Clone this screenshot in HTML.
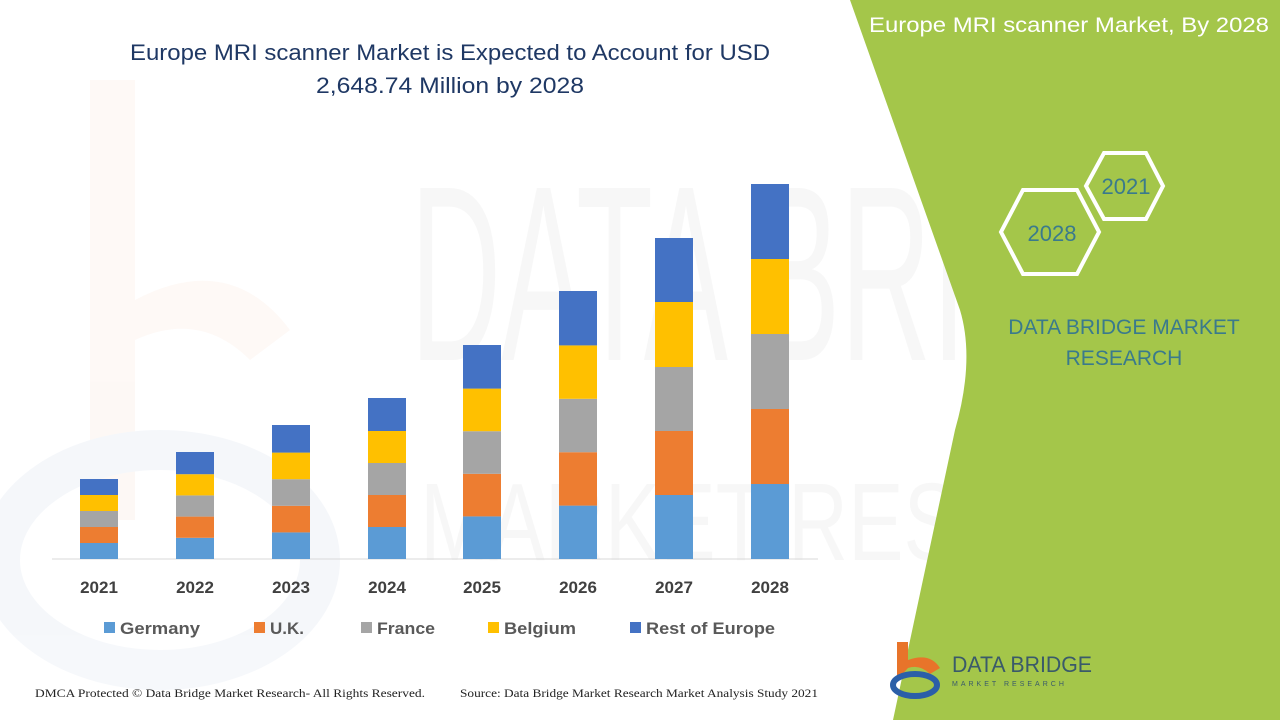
<!DOCTYPE html>
<html><head><meta charset="utf-8"><style>
html,body{margin:0;padding:0;background:#fff;}
svg{display:block;}
</style></head><body>
<svg width="1280" height="720" viewBox="0 0 1280 720" xmlns="http://www.w3.org/2000/svg" font-family="'Liberation Sans', sans-serif">
<rect width="1280" height="720" fill="#fff"/>
<g opacity="0.045">
<path d="M90 80 L135 80 L135 300 Q230 250 290 330 L250 360 Q200 310 135 340 L135 520 L90 520 Z" fill="#e8742a"/>
<ellipse cx="160" cy="560" rx="160" ry="110" fill="none" stroke="#2b5fa8" stroke-width="40"/>
<text x="410" y="360" font-size="250" fill="#555" textLength="830" lengthAdjust="spacingAndGlyphs">DATA BRIDGE</text>
<text x="420" y="560" font-size="110" fill="#555" textLength="830" lengthAdjust="spacingAndGlyphs">MARKET RESEARCH</text>
</g>
<path d="M850 0 L1280 0 L1280 720 L893 720 L955 430 Q975 360 960 310 Z" fill="#a4c64a"/>
<text x="1269" y="32" font-size="21" fill="#fff" text-anchor="end" textLength="400" lengthAdjust="spacingAndGlyphs">Europe MRI scanner Market, By 2028</text>
<g fill="none" stroke="#fff" stroke-width="4">
<polygon points="1001,232 1023,190 1077,190 1099,232 1077,274 1023,274"/>
<polygon points="1086,186 1104,153 1146,153 1163,186 1146,219 1104,219"/>
</g>
<text x="1052" y="241" font-size="22" fill="#3a7a8c" text-anchor="middle">2028</text>
<text x="1126" y="194" font-size="22" fill="#3a7a8c" text-anchor="middle">2021</text>
<text x="1124" y="334" font-size="21" fill="#3a7a8c" text-anchor="middle">DATA BRIDGE MARKET</text>
<text x="1124" y="365" font-size="21" fill="#3a7a8c" text-anchor="middle">RESEARCH</text>
<path d="M897 642 L908 642 L908 660 Q930 652 940 668 L930 674 Q920 664 908 668 L897 680 Z" fill="#e8742a"/>
<ellipse cx="915" cy="685" rx="22" ry="11" fill="none" stroke="#2b5fa8" stroke-width="6"/>
<text x="952" y="672" font-size="22" fill="#3a5a6a" textLength="140" lengthAdjust="spacingAndGlyphs">DATA BRIDGE</text>
<text x="952" y="686" font-size="7" fill="#3a5a6a" letter-spacing="3">MARKET RESEARCH</text>
<text x="450" y="60" font-size="22" fill="#1f3864" text-anchor="middle" textLength="640" lengthAdjust="spacingAndGlyphs">Europe MRI scanner Market is Expected to Account for USD</text>
<text x="450" y="93" font-size="22" fill="#1f3864" text-anchor="middle" textLength="268" lengthAdjust="spacingAndGlyphs">2,648.74 Million by 2028</text>
<line x1="52" y1="559" x2="818" y2="559" stroke="#d9d9d9" stroke-width="1"/>
<g font-size="17" font-weight="bold" fill="#404040" text-anchor="middle">
<text x="99" y="593">2021</text><text x="195" y="593">2022</text><text x="291" y="593">2023</text><text x="387" y="593">2024</text>
<text x="482" y="593">2025</text><text x="578" y="593">2026</text><text x="674" y="593">2027</text><text x="770" y="593">2028</text>
</g>
<g font-size="17" font-weight="bold" fill="#595959">
<rect x="104" y="622" width="11" height="11" fill="#5b9bd5"/><text x="120" y="634" textLength="80" lengthAdjust="spacingAndGlyphs">Germany</text>
<rect x="254" y="622" width="11" height="11" fill="#ed7d31"/><text x="270" y="634">U.K.</text>
<rect x="361" y="622" width="11" height="11" fill="#a5a5a5"/><text x="377" y="634" textLength="58" lengthAdjust="spacingAndGlyphs">France</text>
<rect x="488" y="622" width="11" height="11" fill="#ffc000"/><text x="504" y="634" textLength="72" lengthAdjust="spacingAndGlyphs">Belgium</text>
<rect x="630" y="622" width="11" height="11" fill="#4472c4"/><text x="646" y="634" textLength="129" lengthAdjust="spacingAndGlyphs">Rest of Europe</text>
</g>
<text x="35" y="697" font-size="12" fill="#222" font-family="'Liberation Serif', serif" textLength="390" lengthAdjust="spacingAndGlyphs">DMCA Protected © Data Bridge Market Research- All Rights Reserved.</text>
<text x="460" y="697" font-size="12" fill="#222" font-family="'Liberation Serif', serif" textLength="358" lengthAdjust="spacingAndGlyphs">Source: Data Bridge Market Research Market Analysis Study 2021</text>
<g>
<rect x="80" y="543" width="38" height="16" fill="#5b9bd5"/><rect x="80" y="527" width="38" height="16" fill="#ed7d31"/><rect x="80" y="511" width="38" height="16" fill="#a5a5a5"/><rect x="80" y="495" width="38" height="16" fill="#ffc000"/><rect x="80" y="479" width="38" height="16" fill="#4472c4"/>
<rect x="176" y="537.8" width="38" height="21.2" fill="#5b9bd5"/><rect x="176" y="516.6" width="38" height="21.2" fill="#ed7d31"/><rect x="176" y="495.4" width="38" height="21.2" fill="#a5a5a5"/><rect x="176" y="474.2" width="38" height="21.2" fill="#ffc000"/><rect x="176" y="452" width="38" height="22.2" fill="#4472c4"/>
<rect x="272" y="532.4" width="38" height="26.6" fill="#5b9bd5"/><rect x="272" y="505.8" width="38" height="26.6" fill="#ed7d31"/><rect x="272" y="479.2" width="38" height="26.6" fill="#a5a5a5"/><rect x="272" y="452.6" width="38" height="26.6" fill="#ffc000"/><rect x="272" y="425" width="38" height="27.6" fill="#4472c4"/>
<rect x="368" y="527" width="38" height="32" fill="#5b9bd5"/><rect x="368" y="495" width="38" height="32" fill="#ed7d31"/><rect x="368" y="463" width="38" height="32" fill="#a5a5a5"/><rect x="368" y="431" width="38" height="32" fill="#ffc000"/><rect x="368" y="398" width="38" height="33" fill="#4472c4"/>
<rect x="463" y="516.4" width="38" height="42.6" fill="#5b9bd5"/><rect x="463" y="473.8" width="38" height="42.6" fill="#ed7d31"/><rect x="463" y="431.2" width="38" height="42.6" fill="#a5a5a5"/><rect x="463" y="388.6" width="38" height="42.6" fill="#ffc000"/><rect x="463" y="345" width="38" height="43.6" fill="#4472c4"/>
<rect x="559" y="505.6" width="38" height="53.4" fill="#5b9bd5"/><rect x="559" y="452.2" width="38" height="53.4" fill="#ed7d31"/><rect x="559" y="398.8" width="38" height="53.4" fill="#a5a5a5"/><rect x="559" y="345.4" width="38" height="53.4" fill="#ffc000"/><rect x="559" y="291" width="38" height="54.4" fill="#4472c4"/>
<rect x="655" y="495" width="38" height="64" fill="#5b9bd5"/><rect x="655" y="431" width="38" height="64" fill="#ed7d31"/><rect x="655" y="367" width="38" height="64" fill="#a5a5a5"/><rect x="655" y="302" width="38" height="65" fill="#ffc000"/><rect x="655" y="238" width="38" height="64" fill="#4472c4"/>
<rect x="751" y="484" width="38" height="75" fill="#5b9bd5"/><rect x="751" y="409" width="38" height="75" fill="#ed7d31"/><rect x="751" y="334" width="38" height="75" fill="#a5a5a5"/><rect x="751" y="259" width="38" height="75" fill="#ffc000"/><rect x="751" y="184" width="38" height="75" fill="#4472c4"/>
</g>
</svg>
</body></html>
